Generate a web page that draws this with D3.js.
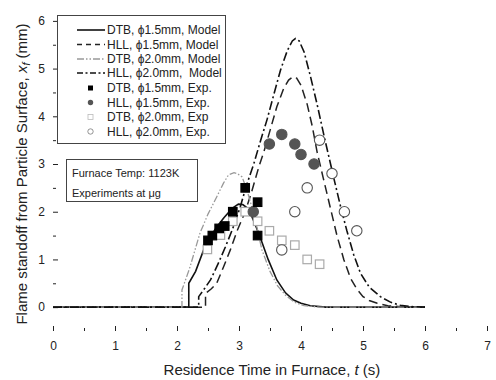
<!doctype html>
<html lang="en">
<head>
<meta charset="utf-8">
<title>Flame standoff vs residence time</title>
<script src="https://cdn.jsdelivr.net/npm/d3@7"></script>
<style>
  body { margin: 0; background: #fff; }
  text { font-family: "Liberation Sans", Arial, sans-serif; fill: #222; }
</style>
</head>
<body>
<div id="chart"></div>
<script>
// ---- data ----
// model curves
var dtb15ModelT = [0, 2.19, 2.19, 2.3, 2.43, 2.55, 2.64, 2.76, 2.89, 2.99, 3.06, 3.13, 3.2, 3.27, 3.34, 3.47, 3.61, 3.75, 3.88, 4.0, 4.15, 4.4, 6.0];
var dtb15ModelV = [0, 0, 0.5, 0.75, 1.2, 1.5, 1.68, 1.88, 2.07, 2.16, 2.15, 2.08, 1.92, 1.7, 1.47, 1.0, 0.57, 0.3, 0.15, 0.08, 0.03, 0, 0];

var hll15ModelT = [0, 2.46, 2.46, 2.55, 2.64, 2.75, 2.86, 2.97, 3.1, 3.2, 3.32, 3.4, 3.5, 3.61, 3.72, 3.8, 3.87, 3.93, 4.0, 4.1, 4.18, 4.26, 4.36, 4.47, 4.58, 4.69, 4.8, 4.9, 5.0, 5.1, 5.23, 5.4, 5.6, 6.0];
var hll15ModelV = [0, 0, 0.29, 0.38, 0.5, 0.84, 1.2, 1.6, 2.0, 2.4, 2.94, 3.25, 3.7, 4.2, 4.58, 4.76, 4.83, 4.8, 4.65, 4.25, 3.8, 3.25, 2.7, 2.1, 1.5, 1.0, 0.6, 0.38, 0.22, 0.14, 0.08, 0.03, 0.01, 0];

var dtb20ModelT = [0, 2.08, 2.08, 2.2, 2.37, 2.5, 2.64, 2.75, 2.83, 2.92, 2.97, 3.05, 3.13, 3.25, 3.37, 3.5, 3.62, 3.75, 3.9, 4.05, 4.3, 6.0];
var dtb20ModelV = [0, 0, 0.36, 0.8, 1.55, 1.95, 2.31, 2.6, 2.77, 2.82, 2.8, 2.73, 2.45, 1.9, 1.2, 0.75, 0.45, 0.25, 0.1, 0.03, 0, 0];

var hll20ModelT = [0, 2.35, 2.35, 2.45, 2.54, 2.66, 2.78, 2.9, 3.02, 3.12, 3.24, 3.35, 3.45, 3.56, 3.67, 3.78, 3.86, 3.91, 3.97, 4.05, 4.15, 4.26, 4.37, 4.53, 4.64, 4.74, 4.85, 4.96, 5.1, 5.28, 5.45, 5.6, 5.8, 6.0];
var hll20ModelV = [0, 0, 0.22, 0.4, 0.57, 0.9, 1.26, 1.65, 2.1, 2.55, 3.01, 3.5, 3.92, 4.45, 4.97, 5.38, 5.58, 5.63, 5.58, 5.35, 4.85, 4.25, 3.6, 2.7, 2.1, 1.6, 1.1, 0.71, 0.42, 0.22, 0.1, 0.04, 0.01, 0];

// experiments
var dtb15ExpT = [2.5, 2.57, 2.68, 2.77, 2.9, 3.1, 3.3, 3.3];
var dtb15ExpV = [1.4, 1.5, 1.65, 1.7, 2.0, 2.5, 2.2, 1.5];

var hll15ExpT = [3.23, 3.49, 3.69, 3.9, 4.0, 4.21];
var hll15ExpV = [2.0, 3.42, 3.62, 3.42, 3.2, 3.0];

var dtb20ExpT = [2.49, 2.7, 2.9, 3.1, 3.3, 3.49, 3.69, 3.9, 4.1, 4.3];
var dtb20ExpV = [1.21, 1.51, 1.8, 2.0, 1.8, 1.6, 1.4, 1.3, 1.0, 0.9];

var hll20ExpT = [3.69, 3.9, 4.1, 4.3, 4.5, 4.7, 4.9];
var hll20ExpV = [1.2, 2.0, 2.5, 3.5, 2.8, 2.0, 1.6];

var xTicks = [0, 1, 2, 3, 4, 5, 6, 7];
var yTicks = [0, 1, 2, 3, 4, 5, 6];
var legendLabels = [
  "DTB, \u03d51.5mm, Model",
  "HLL, \u03d51.5mm, Model",
  "DTB, \u03d52.0mm, Model",
  "HLL, \u03d52.0mm,  Model",
  "DTB, \u03d51.5mm, Exp.",
  "HLL, \u03d51.5mm, Exp.",
  "DTB, \u03d52.0mm, Exp",
  "HLL, \u03d52.0mm, Exp."
];
var noteLines = ["Furnace Temp: 1123K", "Experiments at \u03bcg"];

// ---- chart ----
var W = 496, H = 380;
var x = d3.scaleLinear().domain([0, 7]).range([53, 487]);
var y = d3.scaleLinear().domain([-0.5, 6.27]).range([331, 8]);

var svg = d3.select("#chart").append("svg")
  .attr("width", W).attr("height", H)
  .style("display", "block");

svg.append("rect").attr("width", W).attr("height", H).attr("fill", "#fff");

function zip(ts, vs) { return ts.map(function (t, i) { return { t: t, v: vs[i] }; }); }

// line styles
var lineStyles = [
  { stroke: "#111", width: 1.6, dash: null },
  { stroke: "#222", width: 1.5, dash: "9,5" },
  { stroke: "#999", width: 1.3, dash: "7,2,1.5,2,1.5,2" },
  { stroke: "#111", width: 1.6, dash: "9,3,2,3" }
];
var models = [
  zip(dtb15ModelT, dtb15ModelV),
  zip(hll15ModelT, hll15ModelV),
  zip(dtb20ModelT, dtb20ModelV),
  zip(hll20ModelT, hll20ModelV)
];

var line = d3.line()
  .x(function (d) { return x(d.t); })
  .y(function (d) { return y(d.v); });

// axes: inward ticks, frame drawn separately
var bottom = y(-0.5), top = y.range()[1];
var gx = svg.append("g").attr("transform", "translate(0," + bottom + ")")
  .call(d3.axisBottom(x).tickValues(xTicks).tickSize(-5).tickPadding(10).tickFormat(d3.format("d")));
svg.append("g").attr("transform", "translate(0," + bottom + ")")
  .call(d3.axisBottom(x).tickValues(d3.range(0.5, 7, 1)).tickSize(-3).tickFormat(""));
var gy = svg.append("g").attr("transform", "translate(" + x(0) + ",0)")
  .call(d3.axisLeft(y).tickValues(yTicks).tickSize(-5).tickPadding(8).tickFormat(d3.format("d")));
svg.append("g").attr("transform", "translate(" + x(0) + ",0)")
  .call(d3.axisLeft(y).tickValues(d3.range(0.5, 6.1, 1)).tickSize(-3).tickFormat(""));
svg.selectAll(".domain").remove();
svg.selectAll(".tick line").attr("stroke", "#222");
svg.selectAll(".tick text").style("font-size", "12px").attr("fill", "#222");

svg.append("rect")
  .attr("x", x(0)).attr("y", top)
  .attr("width", x(7) - x(0)).attr("height", bottom - top)
  .attr("fill", "none").attr("stroke", "#222").attr("stroke-width", 1.1);

// model lines
models.forEach(function (m, i) {
  var s = lineStyles[i];
  svg.append("path").datum(m)
    .attr("d", line)
    .attr("fill", "none")
    .attr("stroke", s.stroke)
    .attr("stroke-width", s.width)
    .attr("stroke-dasharray", s.dash);
});

// markers
function squares(ts, vs, size, fill, stroke) {
  svg.append("g").selectAll("rect").data(zip(ts, vs)).join("rect")
    .attr("x", function (d) { return x(d.t) - size / 2; })
    .attr("y", function (d) { return y(d.v) - size / 2; })
    .attr("width", size).attr("height", size)
    .attr("fill", fill).attr("stroke", stroke).attr("stroke-width", 1.2);
}
function circles(ts, vs, r, fill, stroke) {
  svg.append("g").selectAll("circle").data(zip(ts, vs)).join("circle")
    .attr("cx", function (d) { return x(d.t); })
    .attr("cy", function (d) { return y(d.v); })
    .attr("r", r)
    .attr("fill", fill).attr("stroke", stroke).attr("stroke-width", 1.1);
}
squares(dtb20ExpT, dtb20ExpV, 8.5, "#fff", "#aaa");
circles(hll20ExpT, hll20ExpV, 5.2, "#fff", "#555");
circles(hll15ExpT, hll15ExpV, 5.2, "#555", "#555");
squares(dtb15ExpT, dtb15ExpV, 8.5, "#000", "#000");

// legend
var lg = svg.append("g");
lg.append("rect").attr("x", 57.5).attr("y", 15.5).attr("width", 168).attr("height", 128)
  .attr("fill", "#fff").attr("stroke", "#444").attr("stroke-width", 1);
var rowY = [30, 44.5, 59, 73, 88, 102.5, 117, 131.5];
legendLabels.forEach(function (lab, i) {
  var ry = rowY[i];
  if (i < 4) {
    var s = lineStyles[i];
    lg.append("line").attr("x1", 77).attr("x2", 105).attr("y1", ry).attr("y2", ry)
      .attr("stroke", s.stroke).attr("stroke-width", s.width)
      .attr("stroke-dasharray", i === 1 ? "5,4" : (i === 3 ? "6,2.5,2,2.5" : s.dash));
  } else if (i === 4) {
    lg.append("rect").attr("x", 88).attr("y", ry - 2.5).attr("width", 5).attr("height", 5).attr("fill", "#000");
  } else if (i === 5) {
    lg.append("circle").attr("cx", 90.5).attr("cy", ry).attr("r", 2.7).attr("fill", "#555");
  } else if (i === 6) {
    lg.append("rect").attr("x", 88).attr("y", ry - 2.5).attr("width", 5).attr("height", 5)
      .attr("fill", "#fff").attr("stroke", "#bbb").attr("stroke-width", 0.8);
  } else {
    lg.append("circle").attr("cx", 90.5).attr("cy", ry).attr("r", 2.7)
      .attr("fill", "#fff").attr("stroke", "#777").attr("stroke-width", 0.8);
  }
  lg.append("text").attr("x", 107).attr("y", ry + 4.3).style("font-size", "12px")
    .attr("xml:space", "preserve").style("white-space", "pre").text(lab);
});

// note box
svg.append("rect").attr("x", 66.5).attr("y", 159.5).attr("width", 131).attr("height", 42)
  .attr("fill", "#fff").attr("stroke", "#444").attr("stroke-width", 1);
noteLines.forEach(function (t, i) {
  svg.append("text").attr("x", 72).attr("y", 177 + i * 19.5).style("font-size", "11px").text(t);
});

// axis titles
var xt = svg.append("text").attr("x", 272).attr("y", 375).attr("text-anchor", "middle").style("font-size", "15px");
xt.append("tspan").text("Residence Time in Furnace, ");
xt.append("tspan").style("font-style", "italic").text("t");
xt.append("tspan").text(" (s)");

var yt = svg.append("text").attr("transform", "translate(27," + 174 + ") rotate(-90)")
  .attr("text-anchor", "middle").style("font-size", "15px");
yt.append("tspan").text("Flame standoff from Particle Surface, ");
yt.append("tspan").style("font-style", "italic").text("x");
yt.append("tspan").style("font-style", "italic").style("font-size", "11px").attr("dy", 3).text("f");
yt.append("tspan").attr("dy", -3).text(" (mm)");
</script>
</body>
</html>
